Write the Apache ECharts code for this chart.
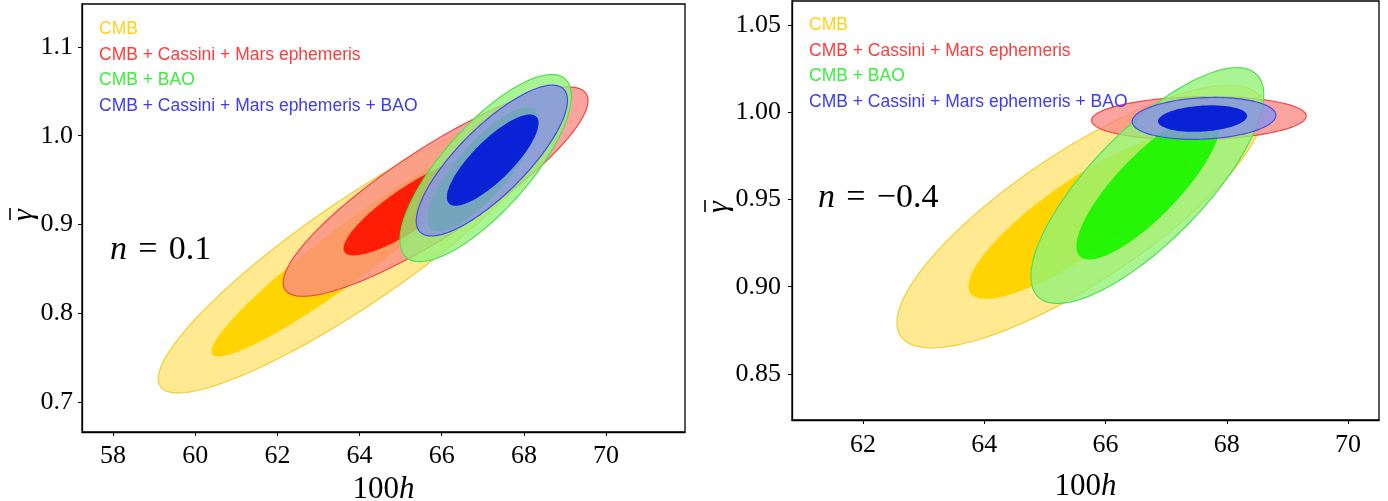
<!DOCTYPE html>
<html>
<head>
<meta charset="utf-8">
<script src="https://cdn.jsdelivr.net/npm/echarts@6/dist/echarts.min.js"></script>
<style>
  html, body { margin: 0; background: #fff; }
  #main { width: 1388px; height: 501px; }
</style>
</head>
<body>
<div id="main"></div>
<script>
// data sets, drawn in this order
const names = ['CMB', 'CMB + Cassini + Mars ephemeris', 'CMB + BAO', 'CMB + Cassini + Mars ephemeris + BAO'];

// each contour: [centre 100h, centre gamma, half width (100h), half height (gamma), correlation]
const leftOuter = [
  [63.95, 0.870, 4.85, 0.160, 0.90],
  [65.85, 0.937, 3.71, 0.118, 0.87],
  [67.07, 0.9635, 2.085, 0.1055, 0.77],
  [67.22, 0.972, 1.84, 0.085, 0.80]
];
const leftInner = [
  [63.80, 0.870, 3.40, 0.119, 0.95],
  [65.30, 0.920, 1.69, 0.055, 0.855],
  [67.00, 0.962, 1.35, 0.070, 0.80],
  [67.24, 0.9725, 1.115, 0.0515, 0.81]
];
const rightOuter = [
  [65.585, 0.9403, 3.025, 0.0753, 0.81],
  [67.54, 0.9966, 1.77, 0.0124, 0.10],
  [66.69, 0.958, 1.92, 0.0676, 0.77],
  [67.625, 0.9965, 1.185, 0.012, 0.15]
];
const rightInner = [
  [65.585, 0.940, 1.845, 0.047, 0.845],
  [67.55, 0.9965, 0.60, 0.006, 0.20],
  [66.705, 0.958, 1.185, 0.0424, 0.82],
  [67.60, 0.9964, 0.735, 0.0076, 0.20]
];

const leftXTicks = [58, 60, 62, 64, 66, 68, 70];
const leftYTicks = [0.7, 0.8, 0.9, 1.0, 1.1];
const rightXTicks = [62, 64, 66, 68, 70];
const rightYTicks = [0.85, 0.90, 0.95, 1.00, 1.05];
const leftNote = '0.1';
const rightNote = '\u22120.4';

// styles
const outerFill = ['rgba(255,228,110,0.76)', 'rgba(250,138,132,0.78)', 'rgba(145,242,118,0.78)', 'rgba(135,145,235,0.8)'];
const innerFill = ['rgba(255,212,0,1)', 'rgba(255,22,0,0.95)', 'rgba(30,245,0,0.95)', 'rgba(5,30,215,0.97)'];
const edgeColor = ['#f3cd3a', '#ee4848', '#55dd55', '#4050e0'];
const textColor = ['#ffd21a', '#ff3c3c', '#3cee3c', '#3c3cf0'];

const serif = 'Liberation Serif';

var chart = echarts.init(document.getElementById('main'));

function renderEllipse(params, api) {
  const cx = api.value(0), cy = api.value(1);
  const hx = api.value(2), hy = api.value(3), rho = api.value(4);
  const s = Math.sqrt(1 - rho * rho);
  const pts = [];
  for (let k = 0; k < 120; k++) {
    const t = 2 * Math.PI * k / 120;
    pts.push(api.coord([cx + hx * Math.cos(t), cy + hy * (rho * Math.cos(t) + s * Math.sin(t))]));
  }
  const i = params.seriesIndex % 4;
  const outer = params.dataIndex === 0;
  return {
    type: 'polygon',
    shape: { points: pts },
    style: {
      fill: outer ? outerFill[i] : innerFill[i],
      stroke: outer ? edgeColor[i] : null,
      lineWidth: outer ? 1.2 : 0
    }
  };
}

function panelSeries(gi, outer, inner) {
  return names.map((n, i) => ({
    name: n,
    type: 'custom',
    xAxisIndex: gi,
    yAxisIndex: gi,
    clip: true,
    renderItem: renderEllipse,
    encode: { x: 0, y: 1 },
    data: [outer[i], inner[i]]
  }));
}

function xAxis(gi, min, max, ticks, gap, margin) {
  return {
    type: 'value', gridIndex: gi, min: min, max: max,
    name: '{a|100}{b|h}', nameLocation: 'middle', nameGap: gap,
    nameTextStyle: { rich: {
      a: { fontFamily: serif, fontSize: 31, color: '#000' },
      b: { fontFamily: serif, fontSize: 31, fontStyle: 'italic', color: '#000' }
    } },
    splitLine: { show: false },
    axisLine: { show: true, lineStyle: { color: '#000', width: 1.3 } },
    axisTick: { show: true, inside: false, length: 4, customValues: ticks, lineStyle: { color: '#000' } },
    axisLabel: { customValues: ticks, margin: margin, fontFamily: serif, fontSize: 26, color: '#000' }
  };
}

function yAxis(gi, min, max, ticks, digits, margin) {
  return {
    type: 'value', gridIndex: gi, min: min, max: max,
    splitLine: { show: false },
    axisLine: { show: true, lineStyle: { color: '#000', width: 1.3 } },
    axisTick: { show: true, inside: false, length: 4, customValues: ticks, lineStyle: { color: '#000' } },
    axisLabel: { customValues: ticks, margin: margin, fontFamily: serif, fontSize: 26, color: '#000',
      formatter: v => v.toFixed(digits) }
  };
}

// rotated gamma-bar label of a y axis
function gammaLabel(x, y) {
  return {
    type: 'group', x: x, y: y, rotation: Math.PI / 2,
    children: [
      { type: 'text', style: { text: '\u03b3', x: 0, y: 2, align: 'center', verticalAlign: 'middle',
        font: 'italic 30px "Liberation Serif"', fill: '#000' } },
      { type: 'line', shape: { x1: -5, y1: -12, x2: 7, y2: -12 }, style: { stroke: '#000', lineWidth: 1.6 } }
    ]
  };
}

function legend(left, top) {
  return {
    data: names.map((n, i) => ({ name: n, textStyle: { color: textColor[i] } })),
    orient: 'vertical', left: left, top: top,
    icon: 'none', itemWidth: 0, itemHeight: 17, itemGap: 7.7,
    selectedMode: false,
    textStyle: { fontFamily: 'Liberation Sans', fontSize: 17.5 }
  };
}

function note(x, y, value) {
  return {
    type: 'text', left: x, top: y,
    style: {
      text: '{n|n}{t|\u2004=\u2004' + value + '}',
      rich: {
        n: { fontFamily: serif, fontStyle: 'italic', fontSize: 34, fill: '#000' },
        t: { fontFamily: serif, fontSize: 34, fill: '#000' }
      }
    }
  };
}

var option = {
  animation: false,
  backgroundColor: '#fff',
  grid: [
    { left: 82, top: 4, width: 603, height: 428, show: true, borderColor: '#000', borderWidth: 1.3,
      backgroundColor: 'transparent', containLabel: false, outerBoundsMode: 'none' },
    { left: 792, top: 1, width: 587, height: 419, show: true, borderColor: '#000', borderWidth: 1.3,
      backgroundColor: 'transparent', containLabel: false, outerBoundsMode: 'none' }
  ],
  xAxis: [
    xAxis(0, 57.245, 71.92, leftXTicks, 38, 11),
    xAxis(1, 60.83, 70.51, rightXTicks, 51, 12)
  ],
  yAxis: [
    yAxis(0, 0.666, 1.1485, leftYTicks, 1, 9),
    yAxis(1, 0.8236, 1.0638, rightYTicks, 2, 11)
  ],
  legend: [legend(89, 15), legend(799, 11)],
  graphic: [
    note(110, 233, leftNote),
    note(818, 181, rightNote),
    gammaLabel(22, 215),
    gammaLabel(717, 207)
  ],
  series: panelSeries(0, leftOuter, leftInner).concat(panelSeries(1, rightOuter, rightInner))
};

chart.setOption(option);
</script>
</body>
</html>
